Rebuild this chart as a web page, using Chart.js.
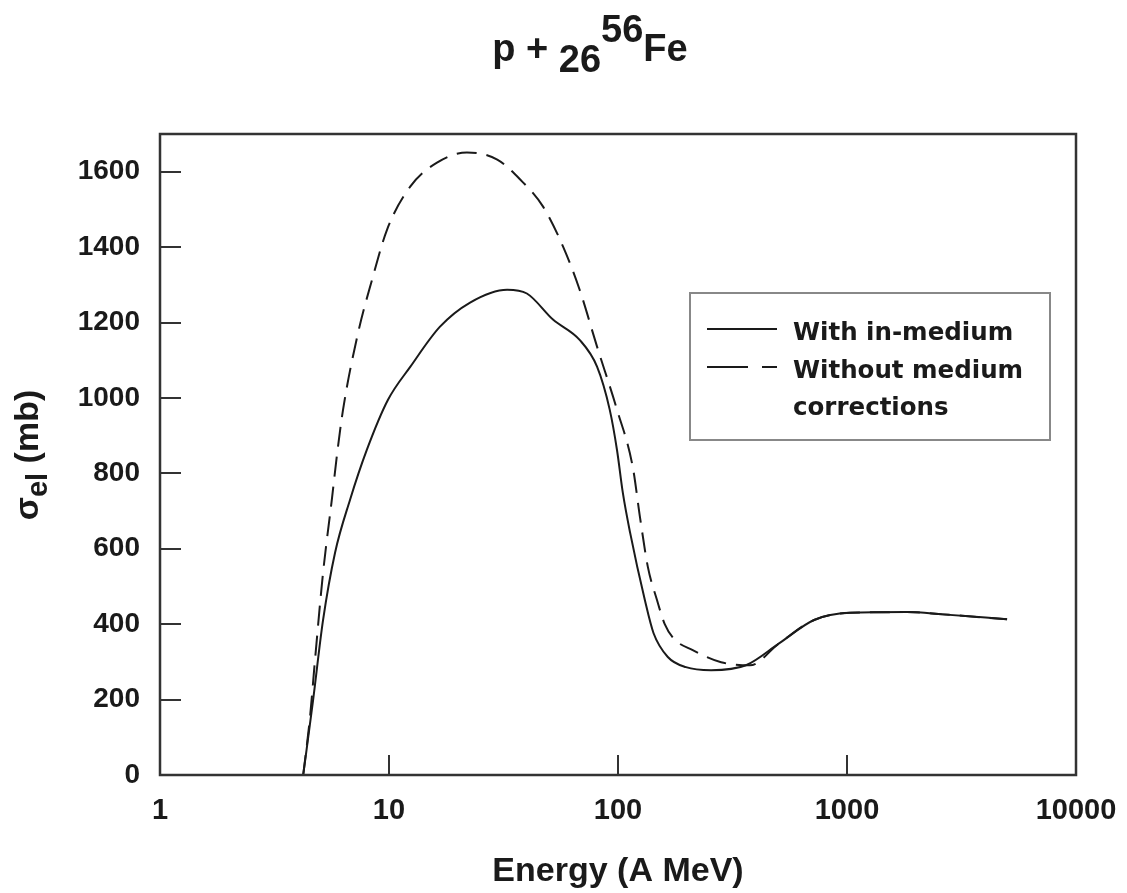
<!DOCTYPE html>
<html>
<head>
<meta charset="utf-8">
<script src="https://cdn.jsdelivr.net/npm/chart.js@4/dist/chart.umd.min.js"></script>
<style>
  html, body { margin: 0; padding: 0; background: #fff; }
  canvas { display: block; }
</style>
</head>
<body>
<canvas id="chart" width="1127" height="893"></canvas>
<script>
// p + Fe-56 elastic cross section vs energy

// ---- data ----
const energyMedium = [4.22, 4.66, 5.15, 5.81, 6.76, 8.0, 9.9, 12.4, 16.7, 22.6, 32.8, 40, 52, 68, 81, 92, 99, 105, 113, 131, 143, 165, 198, 255, 362, 505, 718, 1030, 1830, 2620, 5000];
const sigmaMedium  = [0, 198, 410, 589, 730, 862, 995, 1083, 1189, 1253, 1287, 1277, 1208, 1154, 1083, 969, 862, 748, 642, 464, 376, 313, 286, 278, 291, 349, 411, 430, 432, 426, 413];

const energyFree = [4.22, 4.52, 4.75, 5.15, 5.64, 5.93, 6.3, 7.33, 8.43, 9.8, 12.4, 16.2, 21.9, 29.7, 37.3, 47, 57.5, 68, 81, 99, 116, 125, 135, 148, 160, 175, 212, 282, 377, 505, 718, 1030, 1830, 2620, 5000];
const sigmaFree  = [0, 154, 304, 535, 735, 850, 969, 1173, 1313, 1446, 1561, 1624, 1651, 1632, 1580, 1508, 1402, 1287, 1136, 969, 817, 680, 552, 464, 400, 362, 331, 299, 291, 349, 411, 430, 432, 426, 413];

const xTicks = [1, 10, 100, 1000, 10000];
const yTicks = [0, 200, 400, 600, 800, 1000, 1200, 1400, 1600];

const seriesLabels = ['With in-medium', 'Without medium', 'corrections'];

const INK = '#1a1a1a';
const SANS = '"Liberation Sans", Arial, sans-serif';

const toPoints = (xs, ys) => xs.map((x, i) => ({ x, y: ys[i] }));

// ---- inward tick marks, frame, titles, legend ----
const decorations = {
  id: 'decorations',
  afterDraw(chart) {
    const { ctx, chartArea: a, scales: { x, y } } = chart;
    ctx.save();
    ctx.strokeStyle = '#333';
    ctx.lineWidth = 2;
    ctx.beginPath();
    y.ticks.forEach(t => {
      const py = Math.round(y.getPixelForValue(t.value));
      ctx.moveTo(a.left, py); ctx.lineTo(a.left + 21, py);
    });
    x.ticks.forEach(t => {
      const px = Math.round(x.getPixelForValue(t.value));
      ctx.moveTo(px, a.bottom); ctx.lineTo(px, a.bottom - 20);
    });
    ctx.stroke();
    ctx.lineWidth = 2.5;
    ctx.strokeRect(a.left, a.top, a.right - a.left, a.bottom - a.top);

    // main title: p + 26^56 Fe
    ctx.fillStyle = INK;
    ctx.textBaseline = 'alphabetic';
    const big = 'bold 38px ' + SANS;
    const parts = [
      { t: 'p + ', f: big, dy: 0 },
      { t: '26', f: big, dy: 11 },
      { t: '56', f: big, dy: -19 },
      { t: 'Fe', f: big, dy: 0 }
    ];
    let total = 0;
    parts.forEach(p => { ctx.font = p.f; p.w = ctx.measureText(p.t).width; total += p.w; });
    let cx = 590 - total / 2;
    parts.forEach(p => { ctx.font = p.f; ctx.fillText(p.t, cx, 61 + p.dy); cx += p.w; });

    // x axis title
    ctx.font = 'bold 34px ' + SANS;
    ctx.textAlign = 'center';
    ctx.fillText('Energy (A MeV)', (a.left + a.right) / 2, 881);

    // y axis title, rotated, with subscript
    ctx.save();
    ctx.translate(38, 455);
    ctx.rotate(-Math.PI / 2);
    ctx.textAlign = 'left';
    const yParts = [
      { t: '\u03c3', f: 'bold 34px ' + SANS, dy: 0 },
      { t: 'el', f: 'bold 29px ' + SANS, dy: 9 },
      { t: ' (mb)', f: 'bold 34px ' + SANS, dy: 0 }
    ];
    let yw = 0;
    yParts.forEach(p => { ctx.font = p.f; p.w = ctx.measureText(p.t).width; yw += p.w; });
    let lx = -yw / 2;
    yParts.forEach(p => { ctx.font = p.f; ctx.fillText(p.t, lx, p.dy); lx += p.w; });
    ctx.restore();

    // legend box
    ctx.fillStyle = '#fff';
    ctx.fillRect(690, 293, 360, 147);
    ctx.strokeStyle = '#888';
    ctx.lineWidth = 2;
    ctx.strokeRect(690, 293, 360, 147);
    ctx.strokeStyle = INK;
    ctx.lineWidth = 2;
    ctx.beginPath();
    ctx.moveTo(707, 329); ctx.lineTo(777, 329);
    ctx.moveTo(707, 367); ctx.lineTo(748, 367);
    ctx.moveTo(762, 367); ctx.lineTo(777, 367);
    ctx.stroke();
    ctx.fillStyle = INK;
    ctx.textAlign = 'left';
    ctx.font = 'bold 24.5px "DejaVu Sans", sans-serif';
    ctx.fillText(seriesLabels[0], 793, 340);
    ctx.fillText(seriesLabels[1], 793, 378);
    ctx.fillText(seriesLabels[2], 793, 415);
    ctx.restore();
  }
};

new Chart(document.getElementById('chart'), {
  type: 'line',
  data: {
    datasets: [
      {
        label: 'With in-medium',
        data: toPoints(energyMedium, sigmaMedium),
        borderColor: INK,
        borderWidth: 2,
        pointRadius: 0,
        cubicInterpolationMode: 'monotone',
        fill: false
      },
      {
        label: 'Without medium corrections',
        data: toPoints(energyFree, sigmaFree),
        borderColor: INK,
        borderWidth: 2,
        borderDash: [20, 10],
        pointRadius: 0,
        cubicInterpolationMode: 'monotone',
        fill: false
      }
    ]
  },
  options: {
    responsive: false,
    animation: false,
    devicePixelRatio: 1,
    layout: { padding: { top: 134, right: 51, left: 0, bottom: 0 } },
    plugins: {
      legend: { display: false },
      tooltip: { enabled: false }
    },
    scales: {
      x: {
        type: 'logarithmic',
        min: 1,
        max: 10000,
        grid: { display: false, drawTicks: false },
        border: { display: false },
        ticks: {
          autoSkip: false,
          maxRotation: 0,
          padding: 19,
          color: INK,
          font: { family: SANS, size: 29, weight: 'bold' },
          callback: v => String(v)
        },
        afterBuildTicks: s => { s.ticks = xTicks.map(v => ({ value: v })); },
        afterFit: s => { s.height = 118; s.paddingLeft = 0; s.paddingRight = 0; }
      },
      y: {
        type: 'linear',
        min: 0,
        max: 1700,
        grid: { display: false, drawTicks: false },
        border: { display: false },
        ticks: {
          autoSkip: false,
          padding: 20,
          color: INK,
          font: { family: SANS, size: 28, weight: 'bold' },
          callback: v => String(v)
        },
        afterBuildTicks: s => { s.ticks = yTicks.map(v => ({ value: v })); },
        afterFit: s => { s.width = 160; s.paddingTop = 0; s.paddingBottom = 0; }
      }
    }
  },
  plugins: [decorations]
});
</script>
</body>
</html>
